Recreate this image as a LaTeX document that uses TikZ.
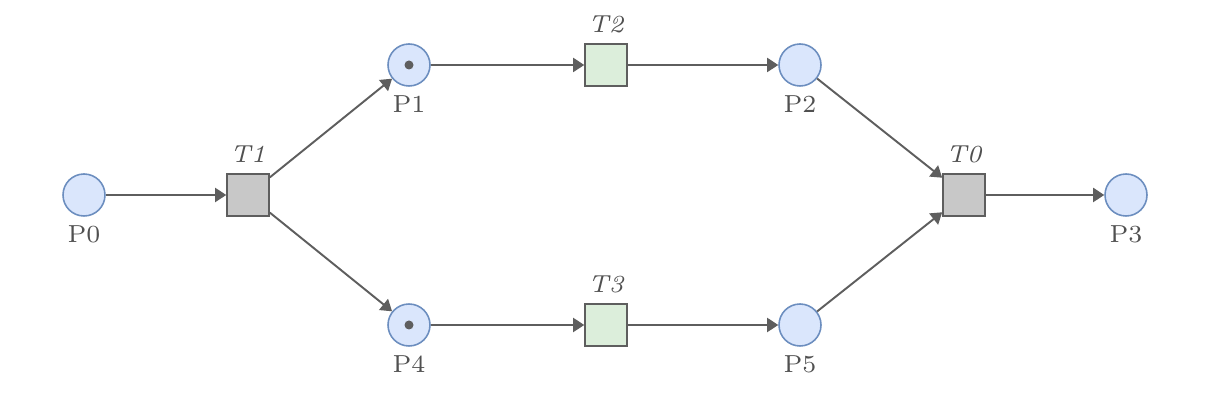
\documentclass[tikz,border=0pt]{standalone}
\usepackage{tikz}
\usetikzlibrary{arrows.meta}

\definecolor{placefill}{HTML}{DAE6FC}
\definecolor{placeline}{HTML}{6C8EBF}
\definecolor{greyfill}{HTML}{C8C8C8}
\definecolor{greenfill}{HTML}{DCEEDB}
\definecolor{edgecol}{HTML}{5E5E5E}
\definecolor{textcol}{HTML}{505050}

\tikzset{
	place/.style={circle, draw=placeline, fill=placefill, line width=0.45pt, minimum size=0.42cm, inner sep=0pt,
		label={[textcol, label distance=0.05cm, inner sep=1pt]below:#1}},
	transition/.style={rectangle, draw=edgecol, line width=0.45pt, minimum size=0.42cm, inner sep=0pt,
		label={[textcol, label distance=0.06cm, inner sep=1pt, font=\fontsize{7}{8}\selectfont\itshape]above:#1}},
	arc/.style={draw=edgecol, line width=0.55pt, -{Triangle[length=0.11cm, width=0.14cm]}},
	token/.style={fill=edgecol}
}

\begin{document}
\begin{tikzpicture}[font=\fontsize{7}{8}\selectfont]
	\useasboundingbox (0,0) rectangle (12.10,4.16);
	
	% places
	\node[place=P0] (p0) at (0.84,2.21) {};
	\node[place=P1] (p1) at (4.09,3.51) {};
	\node[place=P2] (p2) at (8.00,3.51) {};
	\node[place=P3] (p3) at (11.26,2.21) {};
	\node[place=P4] (p4) at (4.09,0.91) {};
	\node[place=P5] (p5) at (8.00,0.91) {};
	
	% transitions
	\node[transition=T1, fill=greyfill] (t1) at (2.48,2.21) {};
	\node[transition=T2, fill=greenfill] (t2) at (6.06,3.51) {};
	\node[transition=T3, fill=greenfill] (t3) at (6.06,0.91) {};
	\node[transition=T0, fill=greyfill] (t0) at (9.64,2.21) {};
	
	% tokens
	\fill[token] (p1.center) circle (0.045);
	\fill[token] (p4.center) circle (0.045);
	
	% arcs
	\draw[arc] (p0) -- (t1);
	\draw[arc] (t1) -- (p1);
	\draw[arc] (t1) -- (p4);
	\draw[arc] (p1) -- (t2);
	\draw[arc] (t2) -- (p2);
	\draw[arc] (p4) -- (t3);
	\draw[arc] (t3) -- (p5);
	\draw[arc] (p2) -- (t0);
	\draw[arc] (p5) -- (t0);
	\draw[arc] (t0) -- (p3);
\end{tikzpicture}
\end{document}
